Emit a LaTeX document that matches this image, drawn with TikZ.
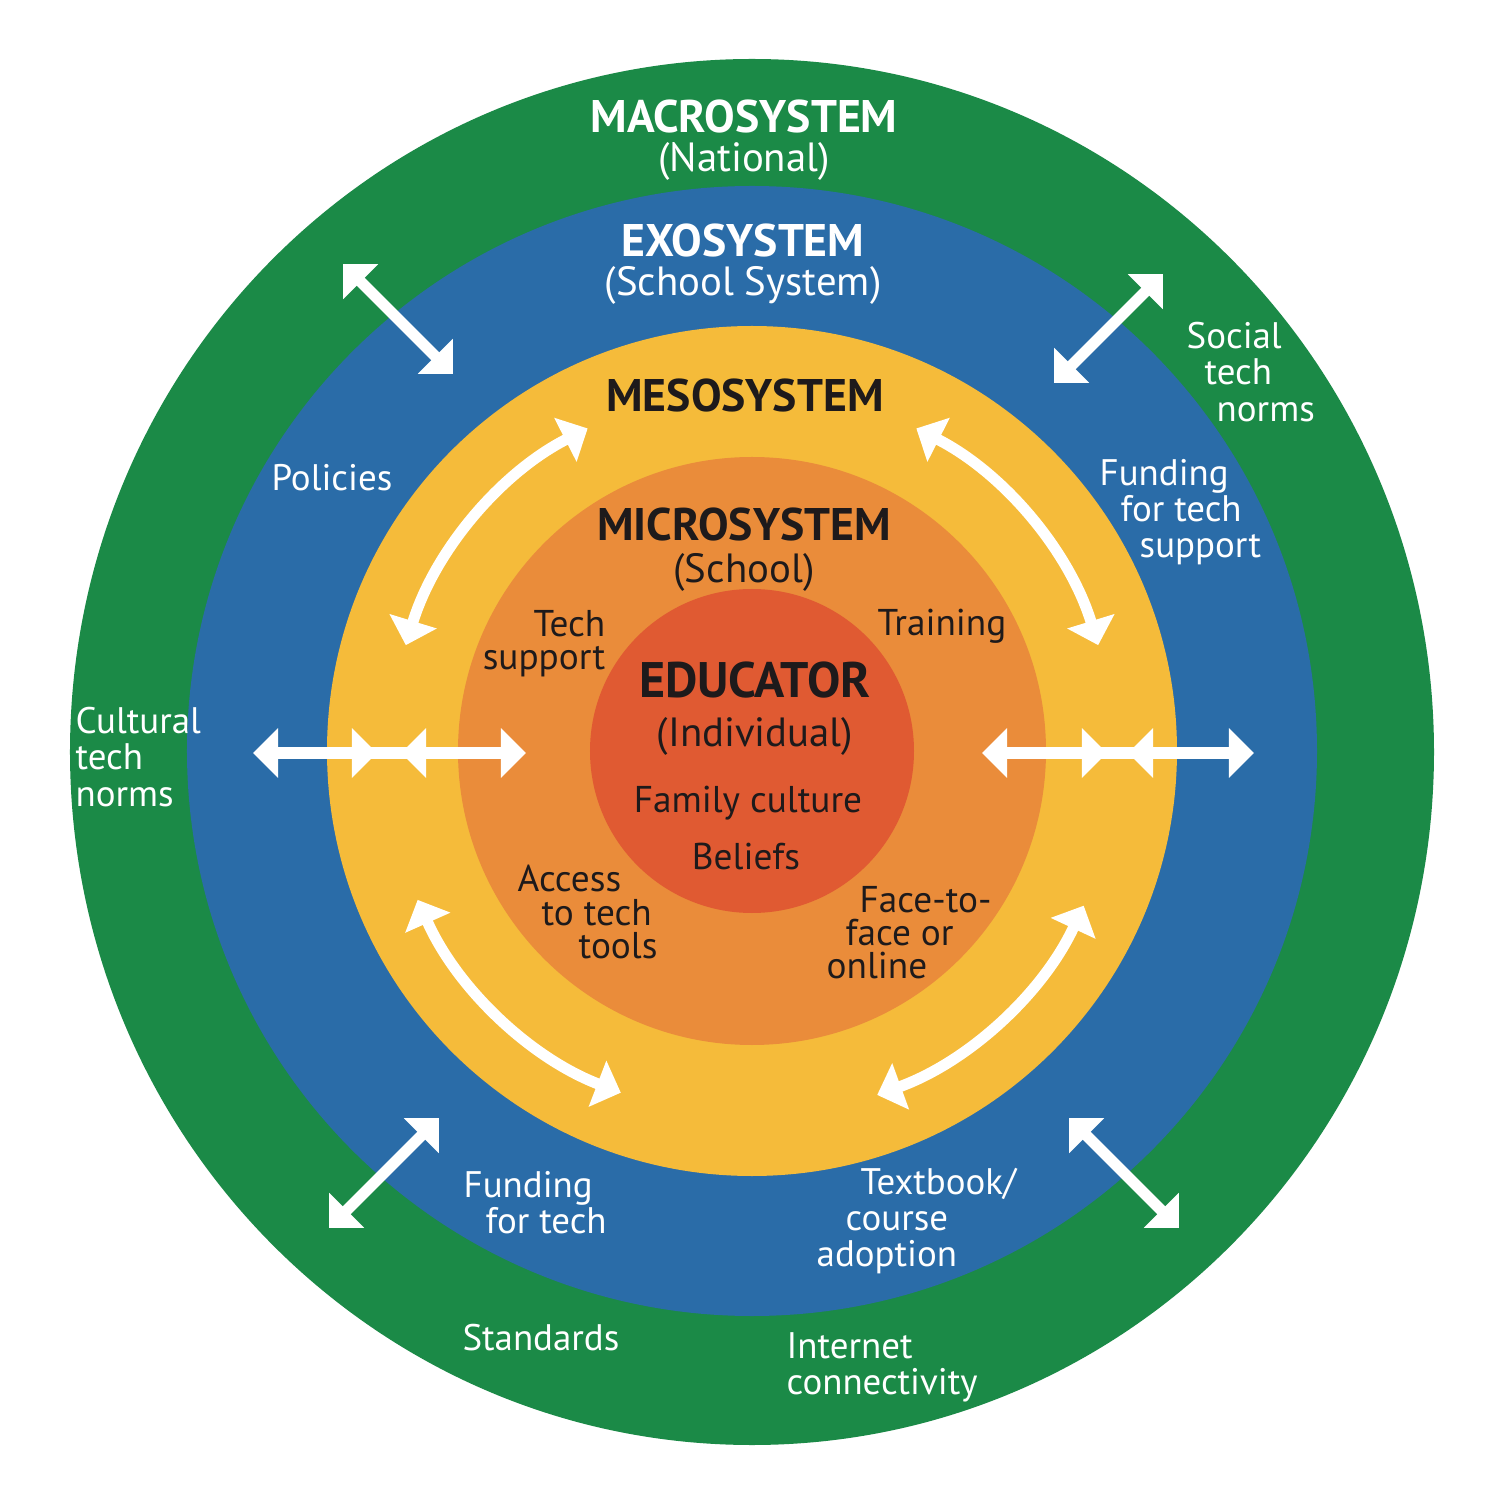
\documentclass[tikz,border=0pt]{standalone}
\usepackage{fontspec}
\setmainfont{PT Sans}
\usetikzlibrary{arrows.meta}

\definecolor{macrogreen}{HTML}{1B8A47}
\definecolor{exoblue}{HTML}{2A6CA8}
\definecolor{mesoyellow}{HTML}{F5BB3A}
\definecolor{microorange}{HTML}{EA8C3A}
\definecolor{eduorange}{HTML}{E05A32}
\definecolor{inktext}{HTML}{1E1A1B}

\tikzset{
  outerlbl/.style={text=white, inner sep=0pt, font=\fontsize{10.5}{10.3}\selectfont},
  innerlbl/.style={text=inktext, inner sep=0pt, font=\fontsize{10.6}{9.4}\selectfont},
  headwhite/.style={text=white, inner sep=0pt, align=center, font=\fontsize{11.6}{11.2}\selectfont},
  headdark/.style={text=inktext, inner sep=0pt, align=center, font=\fontsize{11.6}{12}\selectfont},
  headbf/.style={font=\fontsize{13}{13}\selectfont\bfseries},
  twoway/.style={draw=white, line width=0.11cm,
    {Triangle[length=0.25cm,width=0.48cm]}-{Triangle[length=0.25cm,width=0.48cm]}},
  shaft/.style={draw=white, line width=0.11cm},
}

\begin{document}
\begin{tikzpicture}[x=0.01cm, y=0.01cm]
\useasboundingbox (-752,-749) rectangle (748,751);
\fill[white] (-752,-749) rectangle (748,751);

% the five systems
\coordinate (ctr) at (0,0);
\fill[macrogreen] (0,-1) ellipse[x radius=682, y radius=693];
\fill[exoblue] (ctr) circle[radius=565];
\fill[mesoyellow] (ctr) circle[radius=425];
\fill[microorange] (ctr) circle[radius=294];
\fill[eduorange] (ctr) circle[radius=162];

% headings
\node[headwhite] (macro) at (-8,611) {{\fontsize{13}{13}\selectfont\bfseries MACROSYSTEM}\\(National)};
\node[headwhite] (exo) at (-9,487) {{\fontsize{13}{13}\selectfont\bfseries EXOSYSTEM}\\(School System)};
\node[headdark, headbf] (meso) at (-7,355) {MESOSYSTEM};
\node[headdark] (micro) at (-8,201) {{\fontsize{13}{13}\selectfont\bfseries MICROSYSTEM}\\(School)};
\node[headdark, font=\fontsize{11.6}{14}\selectfont] (edu) at (3,42) {{\fontsize{14.2}{14}\selectfont\bfseries EDUCATOR}\\(Individual)};

% educator
\node[innerlbl] (family) at (-4,-52) {Family culture};
\node[innerlbl] (beliefs) at (-6,-106) {Beliefs};

% microsystem
\node[innerlbl, anchor=east, align=right] (techsup) at (-146,107) {Tech\\support};
\node[innerlbl] (training) at (190,125) {Training};
\node[innerlbl, anchor=west, align=left] (access) at (-235,-161)
  {Access\\\hspace*{0.24cm}to tech\\\hspace*{0.61cm}tools};
\node[innerlbl, anchor=west, align=left] (facetoface) at (74,-182)
  {\hspace*{0.33cm}Face-to-\\\hspace*{0.19cm}face or\\online};

% exosystem
\node[outerlbl] (policies) at (-420,273) {Policies};
\node[outerlbl, anchor=west, align=left] (fundsup) at (347,239)
  {Funding\\\hspace*{0.21cm}for tech\\\hspace*{0.40cm}support};
\node[outerlbl, anchor=west, align=left] (fundtech) at (-289,-452)
  {Funding\\\hspace*{0.22cm}for tech};
\node[outerlbl, anchor=west, align=left] (textbook) at (64,-470)
  {\hspace*{0.44cm}Textbook/\\\hspace*{0.29cm}course\\adoption};

% macrosystem
\node[outerlbl, anchor=west, align=left] (social) at (434,379)
  {Social\\\hspace*{0.18cm}tech\\\hspace*{0.30cm}norms};
\node[outerlbl, anchor=west, align=left] (cultural) at (-677,-6)
  {Cultural\\tech\\norms};
\node[outerlbl] (standards) at (-211,-587) {Standards};
\node[outerlbl, anchor=west, align=left] (internet) at (34,-616)
  {Internet\\connectivity};

% straight arrows across the rings
\coordinate (wa) at (-499,-2);
\coordinate (wb) at (-375,-2);
\coordinate (wc) at (-351,-2);
\coordinate (wd) at (-226,-2);
\coordinate (ea) at (230,-2);
\coordinate (eb) at (355,-2);
\coordinate (ec) at (376,-2);
\coordinate (ed) at (502,-2);
\draw[shaft] ([xshift=0.2cm]wa) -- ([xshift=-0.2cm]wd);
\draw[shaft] ([xshift=0.2cm]ea) -- ([xshift=-0.2cm]ed);
\draw[twoway] (wa) -- (wb);
\draw[twoway] (wc) -- (wd);
\draw[twoway] (ea) -- (eb);
\draw[twoway] (ec) -- (ed);

\coordinate (nwout) at (-409,487);
\coordinate (nwin) at (-299,377);
\coordinate (neout) at (411,477);
\coordinate (nein) at (302,368);
\coordinate (swin) at (-313,-367);
\coordinate (swout) at (-423,-477);
\coordinate (sein) at (317,-367);
\coordinate (seout) at (427,-477);
\draw[twoway] (nwout) -- (nwin);
\draw[twoway] (neout) -- (nein);
\draw[twoway] (swin) -- (swout);
\draw[twoway] (sein) -- (seout);

% curved arrows in the mesosystem
\coordinate (arcnw) at (163:362);
\coordinate (arcne) at (63:362);
\coordinate (arcsw) at (204:366);
\coordinate (arcse) at (290:366);
\draw[twoway] (arcnw) arc[start angle=163, end angle=117, radius=362];
\draw[twoway] (arcne) arc[start angle=63, end angle=17, radius=362];
\draw[twoway] (arcsw) arc[start angle=204, end angle=249, radius=366];
\draw[twoway] (arcse) arc[start angle=290, end angle=335, radius=366];
\end{tikzpicture}
\end{document}
